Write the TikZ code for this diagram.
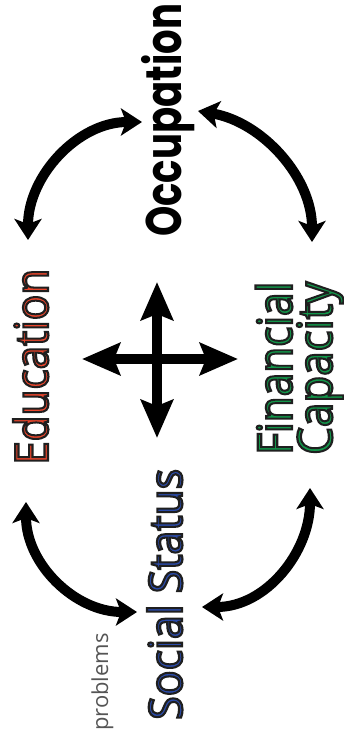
\documentclass[tikz,border=0pt]{standalone}
\usepackage{fontspec}
\usepackage{graphicx}
\setmainfont{Open Sans}
\newfontfamily\occfont{Poppins}
\usetikzlibrary{arrows.meta}
\definecolor{edured}{HTML}{E8452C}
\definecolor{fingreen}{HTML}{12964A}
\definecolor{socblue}{HTML}{2A4AA8}
\definecolor{probgray}{HTML}{555555}
\newcommand{\outlined}[2]{{\color{#1}\special{pdf:literal direct 2 Tr 2.2 w 0.12 0.12 0.12 RG}#2\special{pdf:literal direct 0 Tr 1 w}}}
\newcommand{\fitto}[2]{\resizebox{#1}{\height}{#2}}
\tikzset{
  curvedarrow/.style={line width=10pt, {Stealth[length=21pt,width=27pt,inset=5pt]}-{Stealth[length=21pt,width=27pt,inset=5pt]}},
  crossarrow/.style={line width=10pt, {Stealth[length=38pt,width=32pt,inset=6pt]}-{Stealth[length=38pt,width=32pt,inset=6pt]}},
  lbl/.style={rotate=90, inner sep=0pt, anchor=base west},
  bigtext/.style={font={\fontsize{46}{49}\selectfont}},
}
\begin{document}
\begin{tikzpicture}[x=1pt,y=-1pt]
\useasboundingbox (0,0) rectangle (343,733);
% labels
\node[lbl, font={\occfont\bfseries\fontsize{50}{50}\selectfont}] (occ) at (181,237) {\fitto{233pt}{Occupation}};
\node[lbl, bigtext] (edu) at (48,465) {\fitto{196pt}{\outlined{edured}{Education}}};
\node[lbl, align=left, font={\fontsize{48}{40}\selectfont}] (fin) at (332,455) {\fitto{173pt}{\outlined{fingreen}{Financial}}\\\fitto{173pt}{\outlined{fingreen}{Capacity}}};
\node[lbl, bigtext] (soc) at (182,720) {\fitto{251pt}{\outlined{socblue}{Social Status}}};
\node[lbl, text=probgray, font={\fontsize{22}{22}\selectfont}] (prob) at (108,731) {problems};
% arrow end points
\coordinate (tlA) at (28,240);  \coordinate (tlB) at (142,122);
\coordinate (trA) at (198,111); \coordinate (trB) at (312,242);
\coordinate (blA) at (26,502);  \coordinate (blB) at (137,612);
\coordinate (brA) at (310,488); \coordinate (brB) at (202,607);
\coordinate (cL) at (82,359);   \coordinate (cR) at (238,359);
\coordinate (cT) at (157,282);  \coordinate (cB) at (157,438);
% curved arrows
\draw[curvedarrow] (tlA) .. controls (28,176) and (78,122) .. (tlB);
\draw[curvedarrow] (trA) .. controls (262,122) and (312,177) .. (trB);
\draw[curvedarrow] (blA) .. controls (26,564) and (75,612) .. (blB);
\draw[curvedarrow] (brA) .. controls (310,552) and (266,607) .. (brB);
% cross
\draw[crossarrow] (cL) -- (cR);
\draw[crossarrow] (cT) -- (cB);
\end{tikzpicture}
\end{document}
